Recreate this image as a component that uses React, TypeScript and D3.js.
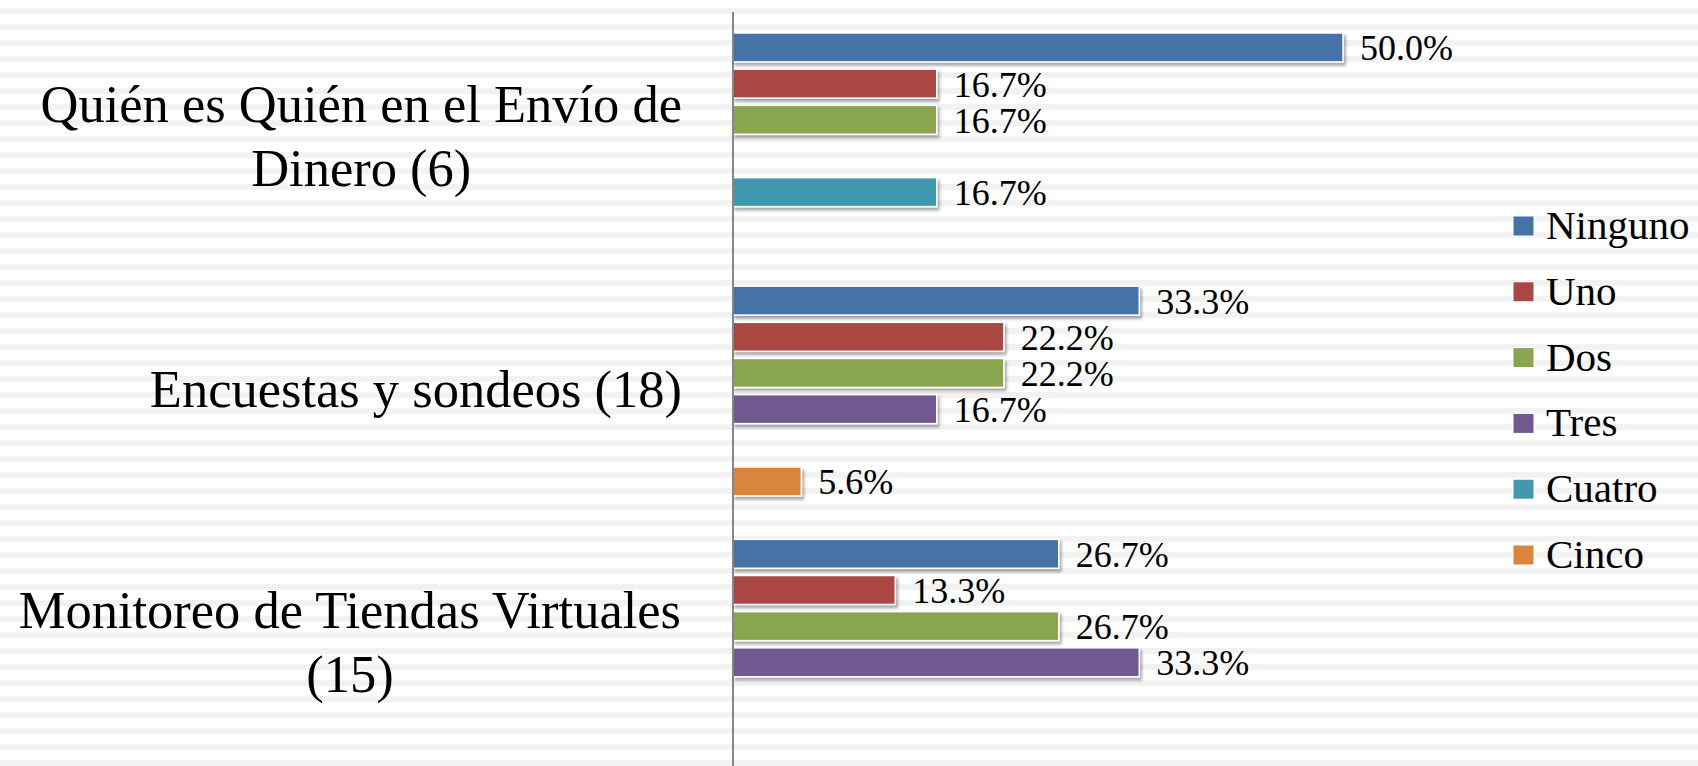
import React, { useEffect } from 'react';
import * as d3 from 'd3';

// categories (top to bottom), each label split in its lines
const CATEGORIES = ['Quién es Quién en el Envío de Dinero (6)', 'Encuestas y sondeos (18)', 'Monitoreo de Tiendas Virtuales (15)'];
const CATEGORY_LINES = [
  ['Quién es Quién en el Envío de', 'Dinero (6)'],
  ['Encuestas y sondeos (18)'],
  ['Monitoreo de Tiendas Virtuales', '(15)'],
];

const SERIES = ['Ninguno', 'Uno', 'Dos', 'Tres', 'Cuatro', 'Cinco'];
const COLORS = ['#4572A7', '#AA4643', '#89A54E', '#71588F', '#4198AF', '#DB843D'];

// percentages per category, null = no bar
const NINGUNO = [50.0, 33.3, 26.7];
const UNO = [16.7, 22.2, 13.3];
const DOS = [16.7, 22.2, 26.7];
const TRES = [null, 16.7, 33.3];
const CUATRO = [16.7, null, null];
const CINCO = [null, 5.6, null];

const VALUES: (number | null)[][] = [NINGUNO, UNO, DOS, TRES, CUATRO, CINCO];

const W = 1698;
const H = 766;
const FONT = "'Liberation Serif', 'Times New Roman', serif";
const CAT_SIZE = 52.5;

// width of a text line, so wrapped labels can be centred like in the original
function textWidth(s: string, size: number) {
  const ctx = document.createElement('canvas').getContext('2d');
  if (!ctx) return s.length * size * 0.45;
  ctx.font = `${size}px ${FONT}`;
  return ctx.measureText(s).width;
}

export default function App() {
  useEffect(() => {
    document.body.style.margin = '0';
    document.body.style.overflow = 'hidden';
  }, []);

  const axisX = 733;
  const labelRight = 682;

  const y = d3.scaleBand<string>()
    .domain(CATEGORIES)
    .range([11.3, 770.8])
    .paddingInner(1 / 7)
    .paddingOuter(1 / 14);

  const ySeries = d3.scaleBand<string>()
    .domain(SERIES)
    .range([0, y.bandwidth()])
    .paddingInner(0.2)
    .paddingOuter(0.1);

  const x = d3.scaleLinear().domain([0, 50]).range([axisX, 1343]);

  // background stripes
  const stripes = d3.range(8, H, 16);

  const legendY = d3.scalePoint<string>().domain(SERIES).range([226, 555]);

  return (
    <svg width={W} height={H} style={{ display: 'block', background: '#fff', fontFamily: FONT }}>
      <defs>
        <filter id="shadow" x="-5%" y="-30%" width="115%" height="180%">
          <feDropShadow dx="2" dy="3" stdDeviation="1.6" floodColor="#000" floodOpacity="0.35" />
        </filter>
      </defs>
      {stripes.map((s) => (
        <rect key={s} x={0} y={s} width={W} height={6} fill="#f2f2f2" />
      ))}

      {/* bars */}
      {CATEGORIES.map((cat, ci) => (
        <g key={cat} transform={`translate(0,${y(cat)})`}>
          {SERIES.map((ser, si) => {
            const v = VALUES[si][ci];
            if (v == null) return null;
            const by = ySeries(ser) as number;
            const bh = ySeries.bandwidth();
            return (
              <g key={ser}>
                <rect
                  x={x(0)}
                  y={by}
                  width={x(v) - x(0)}
                  height={bh}
                  fill={COLORS[si]}
                  stroke="#fff"
                  strokeWidth={1.5}
                  filter="url(#shadow)"
                />
                <text x={x(v) + 17} y={by + bh / 2 + 13} fontSize={36} fill="#000">
                  {d3.format('.1f')(v) + '%'}
                </text>
              </g>
            );
          })}
        </g>
      ))}

      {/* axis line */}
      <line x1={axisX} x2={axisX} y1={12} y2={H} stroke="#868686" strokeWidth={2} />

      {/* category labels */}
      {CATEGORIES.map((cat, ci) => {
        const lines = CATEGORY_LINES[ci];
        const c = (y(cat) as number) + y.bandwidth() / 2;
        const lh = 64;
        const first = c + 16 - ((lines.length - 1) * lh) / 2;
        const maxW = d3.max(lines, (l) => textWidth(l, CAT_SIZE)) as number;
        const mid = labelRight - maxW / 2;
        return (
          <text key={cat} textAnchor="middle" fontSize={CAT_SIZE} fill="#000">
            {lines.map((l, li) => (
              <tspan key={li} x={mid} y={first + li * lh}>
                {l}
              </tspan>
            ))}
          </text>
        );
      })}

      {/* legend */}
      {SERIES.map((ser, si) => {
        const cy = legendY(ser) as number;
        return (
          <g key={ser}>
            <rect x={1513} y={cy - 10} width={21} height={20} fill={COLORS[si]} stroke="#fff" strokeWidth={1} />
            <text x={1546} y={cy + 13} fontSize={41} fill="#000">{ser}</text>
          </g>
        );
      })}
    </svg>
  );
}
